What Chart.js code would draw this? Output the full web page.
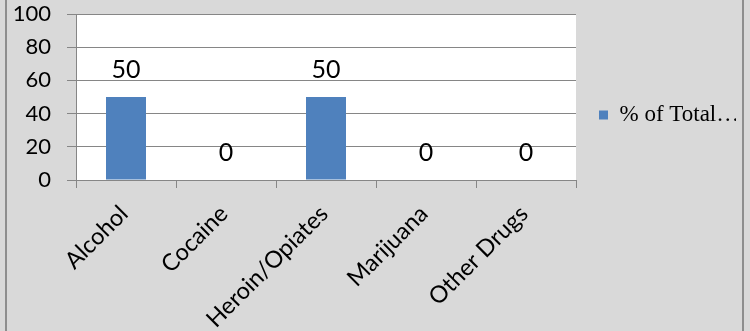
<!DOCTYPE html>
<html>
<head>
<meta charset="utf-8">
<script src="https://cdn.jsdelivr.net/npm/chart.js@4/dist/chart.umd.min.js"></script>
<style>
  html, body { margin: 0; padding: 0; background: #d9d9d9; }
  #wrap { position: relative; width: 750px; height: 331px; }
  #c { position: absolute; left: 0; top: 0; }
  .edge { position: absolute; top: 0; width: 2px; height: 331px; background: #8e8e8e; }
</style>
</head>
<body>
<div id="wrap">
  <canvas id="c" width="750" height="331"></canvas>
  <div class="edge" style="left:5px"></div>
  <div class="edge" style="left:742px"></div>
</div>
<script>
const categories = ['Alcohol', 'Cocaine', 'Heroin/Opiates', 'Marijuana', 'Other Drugs'];
const seriesName = '% of Total\u2026';
const seriesValues = [50, 0, 50, 0, 0];
const yTickMin = 0;
const yTickMax = 100;
const yTickStep = 20;

const plotBg = {
  id: 'plotBg',
  beforeDraw(chart) {
    const a = chart.chartArea, ctx = chart.ctx;
    ctx.save();
    ctx.fillStyle = '#ffffff';
    ctx.fillRect(a.left, a.top, a.right - a.left, a.bottom - a.top);
    ctx.restore();
  }
};

const valueLabels = {
  id: 'valueLabels',
  afterDatasetsDraw(chart) {
    const ctx = chart.ctx;
    const meta = chart.getDatasetMeta(0);
    ctx.save();
    ctx.font = '25px Lato';
    ctx.fillStyle = '#000000';
    ctx.textAlign = 'center';
    ctx.textBaseline = 'middle';
    meta.data.forEach((bar, i) => {
      ctx.fillText(String(chart.data.datasets[0].data[i]), bar.x, bar.y - 27.5);
    });
    ctx.restore();
  }
};

new Chart(document.getElementById('c'), {
  type: 'bar',
  data: {
    labels: categories,
    datasets: [{
      label: seriesName,
      data: seriesValues,
      backgroundColor: '#4f81bd',
      borderWidth: 0,
      categoryPercentage: 1.0,
      barPercentage: 0.4
    }]
  },
  options: {
    responsive: false,
    animation: false,
    devicePixelRatio: 1,
    layout: { padding: { left: 0, top: 0, right: 14, bottom: 0 } },
    plugins: {
      tooltip: { enabled: false },
      legend: {
        position: 'right',
        align: 'start',
        maxWidth: 160,
        title: { display: true, text: ' ', font: { size: 10 }, padding: { top: 68.5, bottom: 0 } },
        labels: {
          boxWidth: 9,
          boxHeight: 9,
          padding: 23,
          color: '#000000',
          font: { family: 'Liberation Serif', size: 23 }
        }
      }
    },
    scales: {
      x: {
        offset: true,
        grid: { display: true, drawOnChartArea: false, drawTicks: true, tickLength: 8, color: '#868686', offset: true },
        border: { display: true, color: '#868686' },
        ticks: {
          autoSkip: false, maxRotation: 45, minRotation: 45, padding: 12, labelOffset: -2,
          color: '#000000', font: { family: 'Lato', size: 23.5 }
        },
        afterFit(scale) { scale.height = 151; }
      },
      y: {
        min: yTickMin,
        max: yTickMax,
        grid: { color: '#868686', tickLength: 9 },
        border: { display: true, color: '#868686' },
        ticks: {
          stepSize: yTickStep, padding: 16,
          color: '#000000', font: { family: 'Lato', size: 22 }
        },
        afterFit(scale) { scale.width = 76; scale.paddingTop = 14; scale.paddingBottom = 0; }
      }
    }
  },
  plugins: [plotBg, valueLabels]
});
</script>
</body>
</html>
